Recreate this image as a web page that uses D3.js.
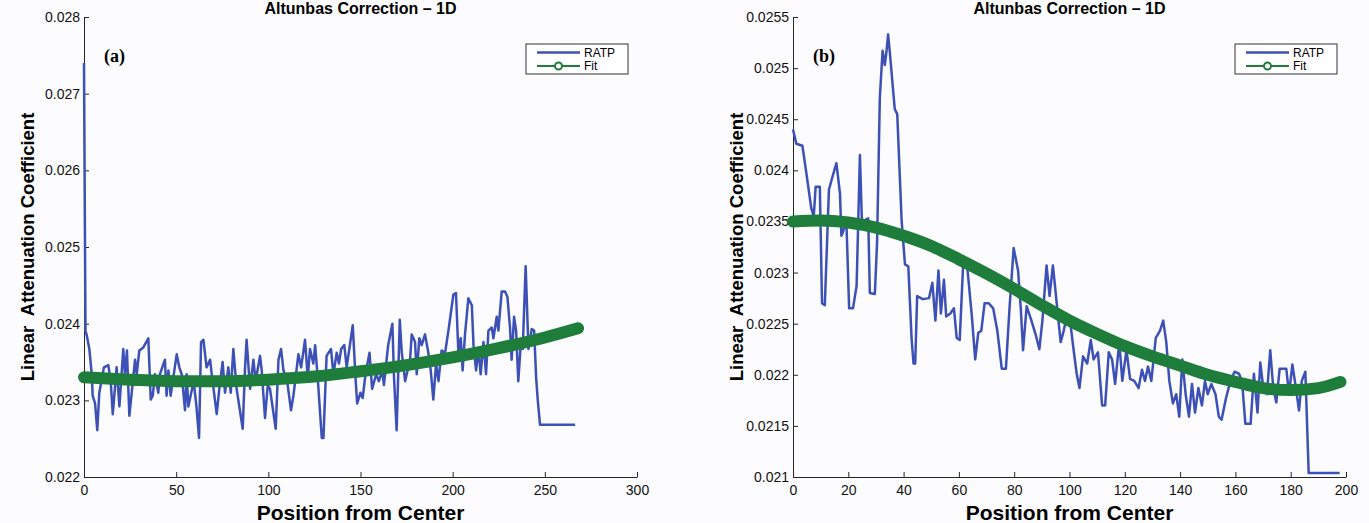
<!DOCTYPE html>
<html>
<head>
<meta charset="utf-8">
<script src="https://cdn.jsdelivr.net/npm/d3@7"></script>
<style>
  html, body { margin: 0; padding: 0; background: #fcfcfe; }
  svg { display: block; font-family: "Liberation Sans", Arial, Helvetica, sans-serif; }
</style>
</head>
<body>
<div id="container"></div>
<script>
// ---- data ----
const titleText = "Altunbas Correction \u2013 1D";
const xLabel = "Position from Center";
const yLabel = "Linear  Attenuation Coefficient";
const seriesNames = ["RATP", "Fit"];

// panel (a)
const xTicksA = [0, 50, 100, 150, 200, 250, 300];
const yTicksA = [0.022, 0.023, 0.024, 0.025, 0.026, 0.027, 0.028];
const ratpA = [
  [0, 0.0274], [0.8, 0.0239], [1.4, 0.02386], [2.9, 0.02367], [4.2, 0.02334], [4.7, 0.02306], [6, 0.02296],
  [7.2, 0.02261], [8.3, 0.0231], [10.8, 0.02343], [13.2, 0.02346], [14.5, 0.02325], [15.6, 0.02282],
  [17.7, 0.02343], [19.2, 0.02292], [21.3, 0.02367], [22.2, 0.02334], [23.3, 0.02365], [24.6, 0.0228],
  [25.9, 0.0231], [27.7, 0.02353], [28.6, 0.02334], [30, 0.02365], [32.2, 0.02369], [34.9, 0.02381],
  [36.2, 0.02301], [37.3, 0.02306], [38.5, 0.02334], [40.3, 0.0231], [41.2, 0.02334], [43.9, 0.02353],
  [44.8, 0.02306], [45.8, 0.02339], [47, 0.02306], [50.3, 0.0236], [51.7, 0.02343], [53, 0.02334],
  [54.8, 0.02287], [55.7, 0.02334], [56.6, 0.02292], [59.5, 0.02325], [61, 0.02292], [62.4, 0.02251],
  [63.5, 0.02376], [64.8, 0.02379], [66.5, 0.02343], [68.4, 0.02353], [69.3, 0.02334], [72, 0.02282],
  [73.4, 0.02315], [75.2, 0.0235], [76.5, 0.0231], [78.3, 0.02343], [79.6, 0.0231], [81, 0.02367],
  [82.8, 0.02315], [86.1, 0.02263], [87.3, 0.02339], [88.2, 0.02379], [90.1, 0.02315], [91.9, 0.02353],
  [93.1, 0.02325], [95.5, 0.02358], [96.4, 0.02339], [98.2, 0.02277], [99.7, 0.0232], [100.9, 0.02315],
  [104, 0.02263], [105.5, 0.02353], [106.9, 0.02367], [108.2, 0.02339], [110, 0.02329], [112.3, 0.02287],
  [113.6, 0.02306], [116.3, 0.0236], [117.8, 0.02343], [119.9, 0.02379], [121.4, 0.02329], [122.6, 0.02367],
  [124.4, 0.02348], [125.4, 0.02372], [126.8, 0.02329], [129, 0.02251], [129.9, 0.02251], [131.6, 0.02358],
  [134, 0.02367], [135.3, 0.02334], [137.1, 0.02362], [138.3, 0.02348], [139.5, 0.02367], [141.2, 0.02372],
  [142.5, 0.02343], [145.8, 0.02398], [147.3, 0.02329], [148.2, 0.02296], [150, 0.0231], [151.2, 0.02303],
  [152.7, 0.02334], [154.9, 0.02362], [156.3, 0.02315], [158.5, 0.02334], [160, 0.02325], [161.8, 0.02339],
  [162.7, 0.0232], [165, 0.02372], [167.3, 0.024], [168.2, 0.02329], [169.6, 0.02261], [171.3, 0.02405],
  [172.4, 0.02362], [174.2, 0.02325], [176.9, 0.02353], [177.8, 0.02386], [179.6, 0.02376], [180.5, 0.02334],
  [181.9, 0.02381], [183.2, 0.02372], [185, 0.02386], [186.8, 0.02362], [188.1, 0.02339], [189.5, 0.02301],
  [191, 0.02348], [192.3, 0.02325], [194, 0.02365], [195.9, 0.02362], [197.7, 0.02391], [200.4, 0.02438],
  [201.8, 0.0244], [203.1, 0.02362], [204.4, 0.02381], [205.4, 0.02339], [206.7, 0.02386], [208.5, 0.02433],
  [210.4, 0.02424], [211.3, 0.02372], [212.7, 0.02339], [214, 0.02367], [215.2, 0.02334], [216.7, 0.02376],
  [218.1, 0.02334], [219.4, 0.02391], [221.2, 0.02395], [222.1, 0.02381], [223.9, 0.02409], [224.8, 0.02391],
  [226.6, 0.02442], [228.4, 0.02442], [229.7, 0.02435], [231.1, 0.02395], [232, 0.02353], [233.3, 0.02409],
  [234.4, 0.02391], [235.6, 0.02325], [236.9, 0.02372], [238, 0.02367], [239.6, 0.02475], [241.1, 0.02367],
  [242.9, 0.02393], [244.2, 0.02391], [245.3, 0.02329], [246.2, 0.02299], [247.4, 0.02268], [266.4, 0.02268]
];
const fitA = [
  [0, 0.02330], [25, 0.02327], [50, 0.02325], [75, 0.02325], [100, 0.02327], [125, 0.02331],
  [150, 0.02338], [175, 0.02346], [200, 0.02356], [225, 0.02368], [250, 0.02382], [268, 0.02394]
];

// panel (b)
const xTicksB = [0, 20, 40, 60, 80, 100, 120, 140, 160, 180, 200];
const yTicksB = [0.021, 0.0215, 0.022, 0.0225, 0.023, 0.0235, 0.024, 0.0245, 0.025, 0.0255];
const ratpB = [
  [0, 0.0244], [1.2, 0.02426], [3.4, 0.02424], [4.8, 0.02398], [6.6, 0.02363], [7.5, 0.02355], [8.2, 0.02384],
  [9.7, 0.02384], [10.5, 0.0227], [11.5, 0.02268], [13, 0.02381], [14, 0.02391], [15.7, 0.02407],
  [17, 0.02377], [17.5, 0.02336], [18, 0.02339], [19.3, 0.02351], [20.3, 0.02265], [21.7, 0.02265],
  [23, 0.02287], [24.2, 0.02415], [25, 0.02343], [26, 0.02351], [27.2, 0.02353], [27.8, 0.0228],
  [29.6, 0.02279], [30.4, 0.02329], [31.4, 0.02471], [32.4, 0.02517], [33.2, 0.02503], [33.8, 0.02516],
  [34.4, 0.02533], [35, 0.02516], [36.8, 0.0246], [37.7, 0.02455], [39.3, 0.0235], [40.5, 0.02308],
  [41.7, 0.02306], [42.9, 0.02235], [43.6, 0.02211], [44.2, 0.02211], [44.9, 0.02277], [46.9, 0.02274],
  [49.2, 0.02275], [50.4, 0.0229], [51.5, 0.02253], [52.6, 0.02302], [53.5, 0.0226], [54.6, 0.02293],
  [55.4, 0.02257], [56.9, 0.0226], [58.2, 0.02265], [59.2, 0.02236], [60.3, 0.02234], [61.6, 0.02312],
  [63.1, 0.02303], [64.7, 0.02257], [65.9, 0.02215], [67, 0.02241], [68.1, 0.02243], [69.3, 0.0227],
  [70.8, 0.0227], [72.4, 0.02265], [73.9, 0.02243], [75.5, 0.02206], [77, 0.02206], [78.3, 0.02265],
  [79.8, 0.02324], [81.4, 0.02302], [82.4, 0.02264], [83.2, 0.02224], [84.5, 0.02267], [86, 0.02255],
  [87.9, 0.02238], [89.1, 0.02225], [90.2, 0.02253], [91.7, 0.02307], [92.8, 0.02277], [94, 0.02307],
  [95.6, 0.02264], [96.8, 0.02232], [97.9, 0.02243], [99, 0.02257], [100.2, 0.02253], [101.5, 0.02224],
  [102.6, 0.02201], [103.6, 0.02187], [104.9, 0.02218], [106.4, 0.02211], [107.7, 0.02234], [108.7, 0.02215],
  [110.3, 0.02222], [111.8, 0.0217], [112.9, 0.0217], [114.2, 0.02222], [115.4, 0.02215], [116.5, 0.02191],
  [118, 0.02232], [119.1, 0.02194], [120.6, 0.02224], [121.9, 0.02196], [123.4, 0.02194], [125, 0.02187],
  [126.2, 0.02205], [127.3, 0.02194], [128.4, 0.02208], [129.6, 0.02194], [131.2, 0.02236], [132.7, 0.02243],
  [133.9, 0.02253], [135, 0.02232], [136.1, 0.02194], [137.4, 0.02172], [138.6, 0.02181], [139.7, 0.02159],
  [140.8, 0.02215], [142, 0.02181], [143.2, 0.02159], [144.3, 0.02191], [145.4, 0.02163], [146.6, 0.02187],
  [147.9, 0.0217], [149, 0.02194], [150, 0.02181], [151.3, 0.02191], [152.8, 0.02181], [154, 0.02159],
  [155, 0.02156], [156.6, 0.02177], [158.2, 0.02194], [159.7, 0.02203], [161.3, 0.02201], [162.4, 0.02194],
  [163.6, 0.02152], [165.5, 0.02152], [166.7, 0.02201], [168, 0.02163], [169, 0.02212], [170.1, 0.02187],
  [171.4, 0.02181], [172.6, 0.02224], [173.7, 0.02187], [174.8, 0.02173], [176, 0.02206], [178.4, 0.02206],
  [179.4, 0.02181], [180.6, 0.0221], [181.9, 0.02187], [183, 0.02165], [184, 0.02194], [185.3, 0.02203],
  [186.5, 0.02104], [197.7, 0.02104]
];
const fitB = [
  [0, 0.02350], [10, 0.02351], [20, 0.02349], [30, 0.02344], [40, 0.02336], [50, 0.02326], [60, 0.02313],
  [70, 0.02299], [80, 0.02284], [90, 0.02268], [100, 0.02253], [110, 0.02240], [120, 0.02228],
  [130, 0.02218], [140, 0.02209], [150, 0.02200], [160, 0.02193], [170, 0.02187], [180, 0.02185],
  [190, 0.02187], [198, 0.02193]
];

// ---- layout ----
const width = 1369, height = 523;
const plotTop = 17, plotBottom = 477;
const blue = "#3c50b6", green = "#1f7d3c";

const panels = [
  {tag: "(a)", left: 84, right: 637, xDomain: [0, 300], yDomain: [0.022, 0.028],
   xTicks: xTicksA, yTicks: yTicksA, ratp: ratpA, fit: fitA},
  {tag: "(b)", left: 793, right: 1346, xDomain: [0, 200], yDomain: [0.021, 0.0255],
   xTicks: xTicksB, yTicks: yTicksB, ratp: ratpB, fit: fitB}
];

const svg = d3.create("svg")
    .attr("width", width)
    .attr("height", height)
    .attr("viewBox", [0, 0, width, height]);

svg.append("rect").attr("width", width).attr("height", height).attr("fill", "#fcfcfe");

panels.forEach(p => {
    const x = d3.scaleLinear().domain(p.xDomain).range([p.left, p.right]);
    const y = d3.scaleLinear().domain(p.yDomain).range([plotBottom, plotTop]);
    const g = svg.append("g");

    // axes, ticks pointing inward like matlab
    const gx = g.append("g")
        .attr("transform", `translate(0,${plotBottom})`)
        .call(d3.axisBottom(x).tickValues(p.xTicks).tickSize(-5).tickSizeOuter(0).tickPadding(6).tickFormat(d3.format("d")));
    const gy = g.append("g")
        .attr("transform", `translate(${p.left},0)`)
        .call(d3.axisLeft(y).tickValues(p.yTicks).tickSize(-5).tickSizeOuter(0).tickPadding(4).tickFormat(d3.format("~g")));
    [gx, gy].forEach(a => {
        a.selectAll("path, line").attr("stroke", "#262626");
        a.selectAll("text").attr("fill", "#111").attr("font-size", 14);
    });
    gx.selectAll("text").attr("dy", "0.85em");

    // series
    const line = d3.line().x(d => x(d[0])).y(d => y(d[1]));
    g.append("path")
        .datum(p.ratp)
        .attr("fill", "none")
        .attr("stroke", blue)
        .attr("stroke-width", 2.5)
        .attr("stroke-linejoin", "round")
        .attr("d", line);

    g.append("path")
        .datum(p.fit)
        .attr("fill", "none")
        .attr("stroke", green)
        .attr("stroke-width", 12)
        .attr("stroke-linecap", "round")
        .attr("d", line.curve(d3.curveMonotoneX));

    // titles
    const cx = (p.left + p.right) / 2;
    g.append("text")
        .attr("x", cx).attr("y", 14)
        .attr("text-anchor", "middle")
        .attr("font-weight", "bold").attr("font-size", 16)
        .text(titleText);
    g.append("text")
        .attr("x", cx).attr("y", 520)
        .attr("text-anchor", "middle")
        .attr("font-weight", "bold").attr("font-size", 21)
        .text(xLabel);
    g.append("text")
        .attr("transform", `translate(${p.left - 50},${(plotTop + plotBottom) / 2}) rotate(-90)`)
        .attr("text-anchor", "middle")
        .attr("font-weight", "bold").attr("font-size", 18.5)
        .style("white-space", "pre")
        .text(yLabel);

    g.append("text")
        .attr("x", p.left + 20).attr("y", 62)
        .attr("font-family", "'Liberation Serif', 'Times New Roman', serif")
        .attr("font-weight", "bold").attr("font-size", 18)
        .text(p.tag);

    // legend
    const lg = g.append("g").attr("transform", `translate(${p.left + 442},44)`);
    lg.append("rect")
        .attr("width", 102).attr("height", 30)
        .attr("fill", "#fff").attr("stroke", "#333");
    lg.append("line").attr("x1", 11).attr("x2", 54).attr("y1", 8.5).attr("y2", 8.5)
        .attr("stroke", blue).attr("stroke-width", 2.5);
    lg.append("line").attr("x1", 11).attr("x2", 54).attr("y1", 22).attr("y2", 22)
        .attr("stroke", green).attr("stroke-width", 2);
    lg.append("circle").attr("cx", 32.5).attr("cy", 22).attr("r", 3.5)
        .attr("fill", "#fff").attr("stroke", green).attr("stroke-width", 2);
    seriesNames.forEach((s, i) => {
        lg.append("text")
            .attr("x", 58).attr("y", 8.5 + i * 13.5)
            .attr("dy", "0.35em")
            .attr("font-size", 12)
            .text(s);
    });
});

document.getElementById("container").append(svg.node());
</script>
</body>
</html>
